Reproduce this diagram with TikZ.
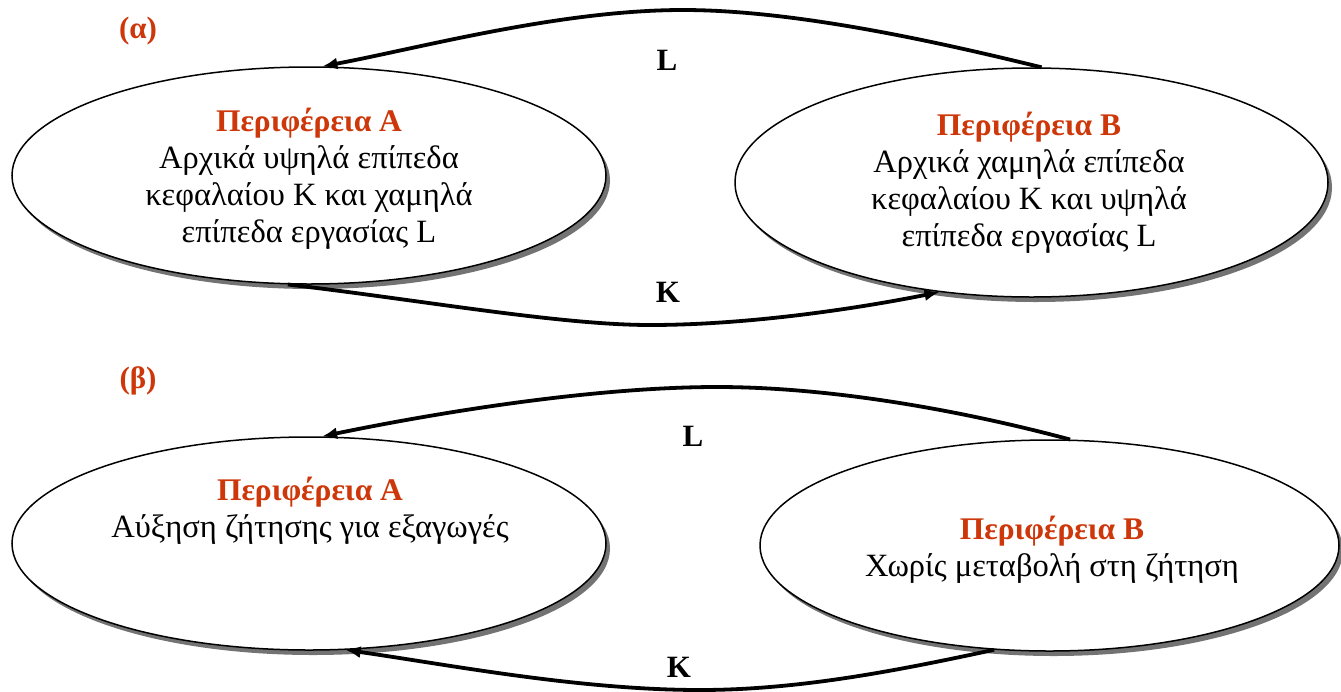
\documentclass[tikz,border=0pt]{standalone}
\usepackage{fontspec}
\setmainfont{Liberation Serif}
\usetikzlibrary{shapes.geometric,shadows,arrows.meta}
\definecolor{accent}{RGB}{205,55,10}
\begin{document}
\begin{tikzpicture}[x=1pt,y=-1pt,
  region/.style={ellipse, draw=black, line width=1.5pt, fill=white, inner sep=0pt,
     drop shadow={shadow xshift=4pt, shadow yshift=-5pt, fill=black!55, opacity=1}},
  txt/.style={align=center, font=\fontsize{32.5}{37}\selectfont, inner sep=0pt},
  flow/.style={line width=3.8pt, -{Latex[length=15pt,width=12pt]}},
  lbl/.style={font=\fontsize{31}{36}\selectfont\bfseries, inner sep=0pt},
  part/.style={lbl, text=accent}]
\useasboundingbox (0,0) rectangle (1341,691);

% (alpha)
\node[part] (pa) at (138,31) {(α)};
\node[region, minimum width=594pt, minimum height=217pt] (A1) at (309,175.5) {};
\node[region, minimum width=593pt, minimum height=229pt] (B1) at (1031.5,182.5) {};
\node[txt] (tA1) at (309,179) {{\fontsize{31.5}{37}\selectfont\bfseries\color{accent}Περιφέρεια Α}\\Αρχικά υψηλά επίπεδα\\κεφαλαίου Κ και χαμηλά\\επίπεδα εργασίας L};
\node[txt] (tB1) at (1029,183) {{\fontsize{31.5}{37}\selectfont\bfseries\color{accent}Περιφέρεια Β}\\Αρχικά χαμηλά επίπεδα\\κεφαλαίου Κ και υψηλά\\επίπεδα εργασίας L};
\node[lbl] (L1) at (667,60) {L};
\node[lbl] (K1) at (668,292) {K};
\draw[flow] (B1.85) .. controls (950,45) and (800,10) .. (683,10)
  .. controls (560,10) and (420,48) .. (A1.83);
\draw[flow] (A1.259) .. controls (420,300) and (560,325) .. (650,325)
  .. controls (750,325) and (860,308) .. (B1.230);

% (beta)
\node[part] (pb) at (138,381) {(β)};
\node[region, minimum width=594pt, minimum height=213pt] (A2) at (309,543.5) {};
\node[region, minimum width=579pt, minimum height=211pt] (B2) at (1049.5,545.5) {};
\node[txt] (tA2) at (310,511) {{\fontsize{31.5}{37}\selectfont\bfseries\color{accent}Περιφέρεια Α}\\Αύξηση ζήτησης για εξαγωγές};
\node[txt] (tB2) at (1052,550) {{\fontsize{31.5}{37}\selectfont\bfseries\color{accent}Περιφέρεια Β}\\Χωρίς μεταβολή στη ζήτηση};
\node[lbl] (L2) at (693,436) {L};
\node[lbl] (K2) at (679,667) {K};
\draw[flow] (B2.79) .. controls (960,410) and (830,387) .. (717,387)
  .. controls (600,387) and (450,410) .. (A2.83);
\draw[flow] (B2.242) .. controls (900,670) and (800,690) .. (700,690)
  .. controls (580,690) and (450,665) .. (A2.289);
\end{tikzpicture}
\end{document}
